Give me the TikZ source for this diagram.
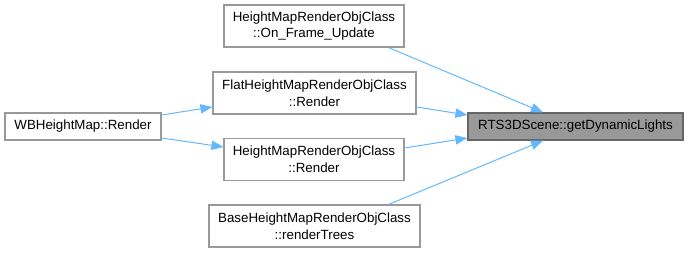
\documentclass[tikz,border=0pt]{standalone}
\usepackage{fontspec}
\setmainfont{Liberation Sans}
\usetikzlibrary{arrows.meta}
\definecolor{edgeblue}{HTML}{63B8FF}
\definecolor{boxline}{HTML}{999999}
\definecolor{hlfill}{HTML}{999999}
\definecolor{hlline}{HTML}{666666}
\begin{document}
\begin{tikzpicture}[x=0.75pt,y=-0.75pt,
  fn/.style={draw=boxline,fill=white,line width=0.9pt,inner sep=0pt,align=center,
    font=\fontsize{10}{12.5}\selectfont,text=black},
  hl/.style={fn,draw=hlline,fill=hlfill},
  call/.style={draw=edgeblue,line width=0.75pt,-{Triangle[length=9pt,width=7pt]}}]
\useasboundingbox (0,0) rectangle (688,253);
% callers and callee, placed by box corners
\node[fn,minimum width=156*0.75pt,minimum height=27*0.75pt] (wb) at (83,126.5) {WBHeightMap::Render};
\node[fn,minimum width=180*0.75pt,minimum height=42*0.75pt] (ofu) at (314,26) {HeightMapRenderObjClass\\::On\_Frame\_Update};
\node[fn,minimum width=203*0.75pt,minimum height=42*0.75pt] (flat) at (314.5,93) {FlatHeightMapRenderObjClass\\::Render};
\node[fn,minimum width=180*0.75pt,minimum height=42*0.75pt] (hmr) at (314,159.5) {HeightMapRenderObjClass\\::Render};
\node[fn,minimum width=211*0.75pt,minimum height=42*0.75pt] (trees) at (314.5,226) {BaseHeightMapRenderObjClass\\::renderTrees};
\node[hl,minimum width=215*0.75pt,minimum height=27*0.75pt] (dyn) at (575.5,126.5) {RTS3DScene::getDynamicLights};
% call edges
\draw[call] (ofu.south east) ++(-16,0) coordinate (a1) (a1) -- (dyn.north -| 543,0);
\draw[call] (flat.east |- 0,107) coordinate (a2) -- (dyn.west |- 0,115);
\draw[call] (hmr.east |- 0,148) coordinate (a3) -- (dyn.west |- 0,138);
\draw[call] (trees.north east) ++(-32,0) coordinate (a4) (a4) -- (dyn.south -| 543,0);
\draw[call] (wb.east |- 0,115) coordinate (b1) -- (flat.west |- 0,107);
\draw[call] (wb.east |- 0,138) coordinate (b2) -- (hmr.west |- 0,147);
\end{tikzpicture}
\end{document}
